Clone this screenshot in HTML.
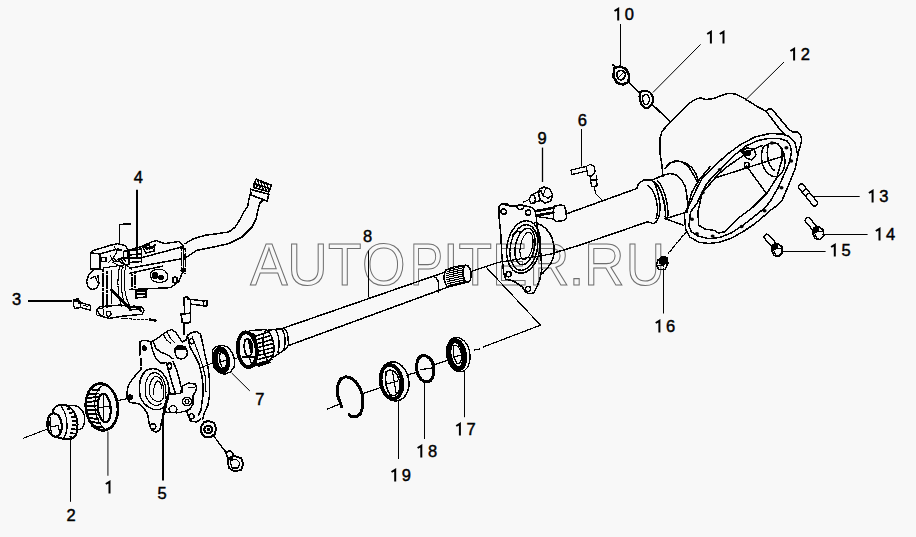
<!DOCTYPE html>
<html><head><meta charset="utf-8">
<style>
html,body{margin:0;padding:0;background:#f8f8f8;}
body{width:916px;height:537px;overflow:hidden;position:relative;}
svg{position:absolute;left:0;top:0;}
.wm{font-family:"Liberation Sans",sans-serif;font-size:56px;fill:none;stroke:#6e6e6e;stroke-width:1;}
.dg{font-family:"Liberation Sans",sans-serif;font-size:16.5px;fill:#000;stroke:#000;stroke-width:0.45px;}
.lb{font-family:"Liberation Sans",sans-serif;font-weight:bold;font-size:16.5px;fill:#111;letter-spacing:2px;}
.k{fill:none;stroke:#000;stroke-width:1.5;stroke-linejoin:round;stroke-linecap:round;shape-rendering:crispEdges;}
.ld{fill:none;stroke:#000;stroke-width:1;}
</style></head>
<body>
<svg width="916" height="537" viewBox="0 0 916 537">
<!-- watermark -->
<g class="wm"><text transform="translate(250.2,285) scale(1.00,1.066)">A</text><text transform="translate(287.2,285) scale(1.00,1.066)">U</text><text transform="translate(327.9,285) scale(0.98,1.066)">T</text><text transform="translate(362.1,285) scale(1.00,1.066)">O</text><text transform="translate(409.8,285) scale(0.89,1.066)">P</text><text transform="translate(443.1,285) scale(1.00,1.066)">I</text><text transform="translate(458.5,285) scale(0.98,1.066)">T</text><text transform="translate(492.2,285) scale(0.94,1.066)">E</text><text transform="translate(529.1,285) scale(1.00,1.066)">R</text><text transform="translate(568.8,285) scale(1.00,1.066)">.</text><text transform="translate(584.1,285) scale(1.00,1.066)">R</text><text transform="translate(625.7,285) scale(0.97,1.066)">U</text></g>

<!-- leader lines -->
<g class="ld">
<path d="M620.5 24V67"/>
<path d="M700.6 44.4L652.9 92.5"/>
<path d="M784 62L745 100.5"/>
<path d="M812 196.5H859.7"/>
<path d="M822 234.5H867.6"/>
<path d="M781 251.5H825.6"/>
<path d="M663.5 268V313.5"/>
<path d="M464.5 370.3V417.2"/>
<path d="M424.5 381.3V439"/>
<path d="M398.5 399.8V459"/>
<path d="M107.9 431.5V475.8" style="stroke-width:1.2;stroke:#333"/>
<path d="M70.5 439.3V501.8"/>
<path d="M28 301H72" style="stroke-width:2"/>
<path d="M137 189.8V258" style="stroke-width:2"/>
<path d="M163 416V480.6" style="stroke-width:2"/>
<path d="M581.5 129V166.6"/>
<path d="M231.7 373L249.8 390.9"/>
<path d="M368.5 250.5V297.4"/>
<path d="M542.5 147.6V182" style="stroke-width:1.3"/>
</g>
<!-- housing 12 -->
<g class="k">
<path d="M663,176 L662,166 L660.2,154.5 L660.2,137.8 L662.1,131.2 L670.5,121.9 L678,114.5 L688.2,104.2 L694.7,99.6 L700.3,97.7 L705.9,99.6 L713.4,98.6 L720.8,95.8 L728.3,93.4 L735.7,94 L743.2,97.7 L750.6,102.4 L758.1,107 L766,111.2 L780.2,129.8 L786.2,135.8"/>
<path d="M766.8,110.4 L768.3,109.2 L772,109.2 L789.2,129.8 L792.9,132 L797.4,132 L800.3,135 L801.8,140.2 L800.3,146.2 L798.9,150 L795.2,168.6 L787.7,187.2 L782.1,200.3 L776.6,205.9"/>
<path d="M684.3,214 L690,203.6 L696,190 L702.3,177.9 L713.5,166.8 L727,154.5 L740,145 L754.9,137 L769.8,133.5 L781.7,134 L789.2,136.5 L795.1,143 L797.4,153.6"/>
<path d="M776.6,205.9 L770,210.5 L763.9,216.1 L754.7,223.9 L743,231.7 L731.3,238.2 L719.5,242.2 L709.1,243.5 L698.7,242.2 L689.6,236.9 L685.6,229.1 L684.3,214"/>
<path d="M689,226 L690.5,212 L696.8,203.6 L706.8,183.5 L718,171.2 L732.5,156.7 L745.9,146 L758,140.5 L768.3,138.5 L780,138.6 L787,141 L790.5,146 L791.5,152 L789.5,162 L785.9,170.5 L778.4,187.2 L770,201.7 L763.9,208.6 L754.7,216.1 L743,225.2 L731.3,233 L719.5,237.5 L709.1,238.8 L698,236 L691.5,232 L689,226 Z"/>
<path d="M697.9,212 L702.3,192.5 L712.4,181.3 L718,174.6 L727,166.8 L740,157.8 L752,150 L762,145.5"/>
<path d="M697.9,212 L698.7,225.2 L705.2,229.1 L714.3,230.4 L718.2,233 L724.8,231.7 L737.4,218.9 L752.3,207.7 L767.2,192.8 L776.6,178 L782.1,159.3 L782,150 L778,143.5"/>
<path d="M762.3,150 C760,160 763,172 772,176 C780,179 786,170 784.7,158 C783.5,148 778,142 772,143 C767,144 763,146 762.3,150 Z"/>
<path d="M768,146 C766,154 768,166 774,170"/>
<path d="M715,178 L782.8,156.3"/>
<path d="M746.5,166 L765.8,192.6"/>
<circle cx="746.8" cy="165" r="2.5"/>
<path d="M741,151 L747,148 L754,149 L756,155 L752,160 L746,158 Z" style="stroke-width:1.4"/><path d="M744,151.5 L750,150 L750,155 L745,155.5 Z" style="fill:#000;stroke-width:1"/>
<!-- collar behind flange -->
<path d="M665.8,167.6 L670.5,162.9 L678,161 L685.4,162.9 L692,167.6 L696.6,175 L698.4,182"/>
</g>
<g fill="#000"><ellipse cx="719.8" cy="169.6" rx="2" ry="1.7"/><ellipse cx="742.8" cy="151.5" rx="2" ry="1.7"/><ellipse cx="771.9" cy="143.0" rx="2" ry="1.7"/><ellipse cx="786.4" cy="147.8" rx="2" ry="1.7"/><ellipse cx="791.2" cy="161.0" rx="2" ry="1.7"/><ellipse cx="781.5" cy="187.7" rx="2" ry="1.7"/><ellipse cx="764.6" cy="210.7" rx="2" ry="1.7"/><ellipse cx="741.6" cy="226.5" rx="2" ry="1.7"/><ellipse cx="712.6" cy="236.1" rx="2" ry="1.7"/><ellipse cx="696.9" cy="233.7" rx="2" ry="1.7"/><ellipse cx="692.0" cy="219.2" rx="2" ry="1.7"/><ellipse cx="702.9" cy="192.6" rx="2" ry="1.7"/></g>
<!-- nut 10, washer 11 -->
<g class="k">
<path d="M628.3,82 L640.2,93.2" style="stroke-width:1.6"/>
<path d="M652.1,104.4 L670.5,121.9" style="stroke-width:1.6"/>
<path d="M614,68 L620,66.5 L626,69 L629,75 L628.5,82 L623,84.5 L617,83 L613.5,77 Z" style="stroke-width:2.4"/>
<path d="M617,73 C618,70 622,69.5 624.5,72 C626.5,75 625,79 621,80 C618,80 616.5,76 617,73 Z" style="stroke-width:1.6"/><path d="M616,80 L626,70" style="stroke-width:1.2"/>
<path d="M612.5,64.5 L616.5,68" style="stroke-width:1.6"/>
<path d="M640,93 C639,97 640,104 644,107.5 C648,109 652,106 653,101 C653.5,96 651,92 647,91 C644,90.5 641,91 640,93 Z" style="stroke-width:2.2"/>
<path d="M643,96 C642,99 643,104 646,105 C649,104.5 650,100 649,97 C648,94 645,94 643,96 Z" style="stroke-width:1.4"/>
</g>
<!-- studs 13,14,15 -->
<g class="k" style="stroke-width:1.4">
<rect x="-13.4" y="-2.8" width="26.8" height="5.6" rx="2.6" transform="translate(808,195) rotate(50.6)"/>
<path d="M-6,-2.6 L-6,2.6 M-1,-2.6 L-1,2.6" transform="translate(808,195) rotate(50.6)" style="stroke-width:1"/>
<rect x="-8" y="-2.7" width="14" height="5.4" rx="2.5" transform="translate(811.5,224.5) rotate(50)"/>
<path d="M813.5,228 L818,226.5 L823,229.5 L824,235.5 L820,239.5 L815,238.5 L812.5,233 Z" style="stroke-width:1.6"/>
<path d="M813.5,228 L818,226.5 L819,231 L814,233.5 Z" style="fill:#000;stroke-width:1"/>
<path d="M819,231 L823.5,232 M815,234 L817,238.5" style="stroke-width:1.1"/>
<rect x="-8" y="-2.7" width="14" height="5.4" rx="2.5" transform="translate(770.5,241) rotate(48)"/>
<path d="M772.5,245 L777,243.5 L782,246.5 L782.5,252.5 L778.5,256.5 L774,255.5 L771.5,250 Z" style="stroke-width:1.6"/>
<path d="M772.5,245 L777,243.5 L778,248 L773,250.5 Z" style="fill:#000;stroke-width:1"/>
<path d="M778,248 L782,249 M774,251 L776,255.5" style="stroke-width:1.1"/>
</g>
<!-- nut 16 -->
<g class="k">
<path d="M686,232 L676,244 L668,254" style="stroke-dasharray:3 1.5;stroke-width:1.2"/>
<path d="M658,260 L662,256.5 L667,257.5 L668,263 L665,269.5 L659,269.7 L656.3,265 Z" style="stroke-width:1.5"/>
<path d="M659.5,258.5 L663,257 L666.8,258.5 L667,263.5 L662,265 L659.5,263 Z" style="fill:#000;stroke-width:1"/>
<path d="M656.3,265 L663.5,266" style="stroke-width:1.1"/>
</g>

<!-- tube + collar -->
<g class="k">
<path d="M566.5,213.8 L636.8,188.5"/>
<path d="M549,254.5 L580,245 L648.5,221.5"/>
<path d="M636.8,188.5 L638.4,183.5 L643.5,180.2 L651.8,180.2 C654,182 656,186 657,190 C659.5,198 660.6,208 659.5,214 C658.5,219 656,223 653.5,223.7 L648.5,222"/>
<path d="M648,186 C652,188 655,194 656.5,201 C658,209 657.5,215 656,218.7"/>
<path d="M651.8,180.2 L663.6,175.1 L670.3,173.5 L677,175.1 L682,180.2 L685.4,186.9 L687,197 L687.9,208.7 L686.2,212"/>
<path d="M654.4,181.8 C659,186 662,193 664,202 C665.5,209 665.8,214 665.2,218.7" style="stroke-width:1.8;stroke-dasharray:2 1"/>
<path d="M657.5,180.6 C662,185 664.5,192 666.5,201 C668,208 668.2,214 667.5,218.5"/>
<path d="M665.2,218.7 L687,212"/>
<path d="M665.2,218.7 L683.7,225.4"/>
<path d="M665.2,168.4 L668.6,163.4 L675.3,160.9 L682,161.7 L688.7,166.8 L693.7,175.1 L697.1,181.8"/>
<path d="M687,212 L688.5,204 L692,191.9 L698.8,180.2 L710,166.8"/>
</g>
<!-- sensor 6 -->
<g class="k" style="stroke-width:1.3">
<path d="M571,170 L586,166.5 L587,171 L572,174.5 Z"/>
<path d="M586,166.5 L590,164.5 L594.5,166.5 L595,172 L592,176 L588,175.5 L587,171"/>
<path d="M590,176 L591.5,186.5 L597,186 L596.5,175.5"/>
<path d="M591,180 L597,179.5" style="stroke-width:2"/>
<path d="M594,187 L596,194 L602.2,200.4" style="stroke-width:1.1"/>
</g>
<!-- sensor bracket on tube -->
<g class="k">
<path d="M553.5,206.5 L561,204.8 L564.5,206 L566,211 L566.5,218 L564,220.5 L556,221.5 L553.5,219 Z" style="stroke-width:1.5"/>
<path d="M536.5,211 L553.5,207.8 M536.5,215.5 L553.5,212.5" style="stroke-width:2.6"/>
<path d="M536.5,211 C535,213 535.5,215 536.5,216 M536.5,216.5 L553.5,219" style="stroke-width:1.3"/>
</g>
<!-- bolt 9 -->
<g class="k">
<path d="M539.5,189 L544.1,187.1 L549.7,189 L552.5,194.6 L550.7,201.1 L545,203 L540.4,200.2 L538.5,194 Z" style="stroke-width:1.7"/>
<path d="M541,190.5 L543,196 L549,198 M543,196 L545.5,188.5 M547,199 L551,196" style="stroke-width:1.1"/>
<path d="M540.4,190.8 L530.2,195.5 M542.3,200.2 L532,203" style="stroke-width:1.4"/>
<ellipse cx="532.5" cy="199.5" rx="2.8" ry="4" style="stroke-width:1.4"/>
<path d="M505,206 L517,205 M523.6,202 L529.5,199.5" style="stroke-width:1"/>
<ellipse cx="520.3" cy="207" rx="3.4" ry="2.4" style="stroke-width:1.3"/>
</g>

<!-- flange plate / bearing retainer -->
<g class="k">
<path d="M498.8,206.7 L501.7,203.8 L507.6,203.8 L510.5,206.7 L518,205.5 L525.2,205.8 L529.1,206.7 L532,207.7 L535,210.6 L536,214.6 L537.9,234.1 L540.8,253.7 L541.8,269.3 L539.9,279.1 L536.9,286.9 L534,292.8 L529.1,293.8 L525.2,291.8 L522.3,286.9 L513.5,281 L505.6,279.1 L503.7,273.2 L501.7,253.7 L500.8,234.1 L498.8,214.6 Z"/>
<circle cx="503.7" cy="211.6" r="2.6"/><circle cx="528.1" cy="212.6" r="2.6"/>
<circle cx="508.6" cy="274.2" r="2.6"/><circle cx="528.1" cy="288.9" r="2.6"/>
<ellipse cx="523.5" cy="247" rx="16.5" ry="26.5" transform="rotate(10 523.5 247)"/>
<ellipse cx="523.8" cy="247.5" rx="13.5" ry="23" transform="rotate(10 523.8 247.5)" style="stroke-dasharray:3 1"/>
<ellipse cx="525" cy="246.5" rx="9.5" ry="18.5" transform="rotate(12 525 246.5)"/>
<ellipse cx="526.5" cy="246" rx="6" ry="14" transform="rotate(12 526.5 246)" style="stroke-width:1.1"/>
<path d="M535,222.4 C543,225 549,230 552,238 C555,246 555,255 551,263 C548,268 545,271 542.8,273.2"/>
<path d="M513,235 C515,232 518,231 520,232" />
</g>

<!-- shaft 8 -->
<g class="k">
<path d="M284.2,327.8 L445.7,271.9"/>
<path d="M288.6,345.5 L447.6,287.2"/>
<path d="M433.6,276.1 C437,278 438.6,281 438.5,284 L438.3,291.9"/>
<!-- spline end -->
<path d="M445,272 C443,276 444,283 447.6,287.2 L469,281.7 C472,279 472,270 468,266 C466.5,265 465,265 463,265.6 L454.1,266.8 L446,270 Z" style="fill:#f8f8f8"/>
<path d="M465.3,265.4 C462,268 462,278 466,282" />
<path d="M449,269.5 L463,266 M447.5,271.5 L463,267.8 M447,273.5 L463,269.8 M447,275.5 L463,271.8 M447,277.5 L463.5,273.8 M447,279.5 L464,275.8 M447.5,281.5 L464.5,277.8 M448,283.5 L465,279.8 M448.5,285.5 L466,281.5" style="stroke-width:1.1"/>
<path d="M470.9,271.4 L500,262 L549,254.5" style="stroke-width:1.2"/>
<!-- CV joint -->
<path d="M268.5,330.1 L284.2,328.4 L287.5,332.9 L288.6,344 L286.4,348.5 L273,357.5"/>
<path d="M276,330 C279,336 280,345 278,352 M282,329 C285,334 286,342 284,349" />
<path d="M249.5,330.6 L266.3,329.5 C270,332 273,338 274.1,346.3 C274.5,352 273,357.5 268.5,361.9 L248.4,367.5" style="fill:#f8f8f8"/>
<path d="M256,336 L268,332 M256,340 L271,335.5 M256,344 L272.5,339.5 M256,348 L273.5,343.5 M256,352 L274,347.5 M256,356 L274,351.5 M256,360 L273.5,355.5 M257,364 L272,359.5 M259,366 L270,362.5" style="stroke-width:1.6"/>
<path d="M253,334 C256,341 257.5,351 255.5,364" style="stroke-width:3"/>
<path d="M266.3,329.5 C262,333 261,352 268.5,361.9" />
<ellipse cx="247.2" cy="349.7" rx="9.4" ry="17.4" transform="rotate(-6 247.2 349.7)" style="stroke-width:3.8;fill:#f8f8f8;stroke-dasharray:2.5 0.7"/>
<path d="M245,340 C243.5,345 244,352 247,356 C250,357 252.5,354 252.5,349 C252.5,344 251,340 248,338.5 Z" style="stroke-width:1.6"/><path d="M249,341 L251.5,352" style="stroke-width:2.4"/>
<path d="M243,357 L253,357 M249,357 L252,365" />
</g>
<!-- seal 7 -->
<g class="k">
<path d="M212.4,349.7 L216.2,346.7 L222.9,345.2 L228.1,347.4 L232.6,353.4 L234.8,360.9 L234,367.6 L230.3,372 L224.4,374.3 L218.4,372 L213.9,367.6 L212.4,358.6 Z" style="stroke-width:1.4"/>
<ellipse cx="221.3" cy="360.3" rx="6" ry="11.2" transform="rotate(-8 221.3 360.3)" style="stroke-width:5.4;stroke-dasharray:3 0.6"/>
<path d="M220,353 C219.5,358 220,364 222.5,368 C225,368.5 227,366 227,361 C227,357 225,354 222,352.5 Z" style="fill:#f8f8f8;stroke-width:1.2"/>
<path d="M219.5,362 L227,360" style="stroke-width:1.2"/>
<path d="M212.5,363 L200,368" style="stroke-width:1"/>
<path d="M234.5,359 L238,357.5" style="stroke-width:1"/>
</g>

<!-- rings 17 18 19 + snap ring + axis -->
<g class="k">
<path d="M327.3,409.1 L341,403.5 M361.3,394 L380.6,387.5 M406.9,375.2 L416.4,372.4 M420.9,369.6 L432.6,367.9 M434.9,364.5 L446.8,360.6 M474.3,350.1 L479.5,349.1 M483.5,346.9 L540.5,325.2 L486.6,267.7" style="stroke-width:1.2"/>
<path d="M341.8,406.9 L337.9,396.3 L337.9,385.1 L340.7,379 L345.7,376.7 L350.7,377.8 L355.8,381.8 L360.2,388.5 L363,397.4 L362.5,407.5 L360.2,414.2 L355.8,417 L351.3,416.4 L349,414.2" style="stroke-width:3"/>
<!-- ring 19 -->
<ellipse cx="394.2" cy="381.4" rx="14.6" ry="19.6" transform="rotate(-10 394.2 381.4)" style="stroke-width:1.5"/>
<ellipse cx="391.5" cy="381.8" rx="10.6" ry="17" transform="rotate(-10 391.5 381.8)" style="stroke-width:3.8;stroke-dasharray:4 0.8"/>
<path d="M386,372 C385,380 386,389 390,394.5 C394,397 398,395 399.5,390 C401,384 399,376 395,372 C392,369.5 388,369.5 386,372 Z" style="stroke-width:1.5"/>
<path d="M387,384 L398,381 M392.5,371 L396,393" style="stroke-width:1.2"/>
<!-- ring 18 -->
<ellipse cx="425.2" cy="368.7" rx="8.6" ry="13.4" transform="rotate(-10 425.2 368.7)" style="stroke-width:3"/>
<path d="M429,356.5 C433,359 435,364 434.5,370 C434,376 431,381 427,382.5" style="stroke-width:1.2"/>
<!-- ring 17 -->
<ellipse cx="458.3" cy="354.6" rx="11.6" ry="17.4" transform="rotate(-10 458.3 354.6)" style="stroke-width:1.3"/>
<ellipse cx="456.8" cy="354.6" rx="7.6" ry="14" transform="rotate(-10 456.8 354.6)" style="stroke-width:5;stroke-dasharray:3 0.7"/>
<path d="M453.5,346 C453,352 454,359 457,363.5 C460,364 462,361 461.7,356 C461.3,351 459,347 456,345 Z" style="fill:#f8f8f8;stroke-width:1.2"/>
<path d="M453.5,357 L462,355" style="stroke-width:1.3"/>
</g>

<!-- part 4 actuator + hose -->
<g class="k">
<!-- hose -->
<path d="M185,243.7 L193.4,238.7 L205.1,235.3 L216.9,233.7 L228.6,232 L235.3,227 L239.5,220.3 L242.8,213.6 L247.8,206 L248.7,200.2 L250.4,193.5"/>
<path d="M186.7,257.1 L196.8,250.4 L213.5,247 L228.6,243.7 L242,237 L252,227 L256.2,218.6 L257.9,210.2 L259.6,203.5 L262,201"/>
<path d="M250.4,189.3 L268.8,194.3 L267.1,201 L251.2,195.1 Z" style="stroke-width:1.6"/>
<path d="M253.7,184.2 L256.2,179.2 L271.3,185.1 L268.8,191.8 L253.7,187.5 Z" style="stroke-width:1.6"/>
<path d="M255,181 L257,187 M258,181.5 L260,188 M261,182 L263,189 M264,183 L266,189.5 M267,184 L268.5,190 M254,184 L270,188.5" style="stroke-width:1.3"/>
<!-- top block -->
<path d="M119.4,242 L119.4,224.5 L126,224.5" style="stroke-dasharray:1.6 1.2;stroke-width:1.1"/>
<path d="M123.5,224.2 L130.7,224.2" style="stroke-width:1.8"/>
<path d="M90.7,269.2 L90.7,252.8 L92.8,250.7 L109.2,245.6 L117.4,243.6 L125.6,245.6 L127.6,249.7 L128.7,260" style="stroke-dasharray:3 0.8"/>
<path d="M90.7,252.8 L100,254 L110,251 L118,249"/>
<path d="M100,254 L100,268.2 M90.7,269.2 L101,269.2"/>
<rect x="101.5" y="257.4" width="4.4" height="4.4" style="stroke-width:1.2"/>
<ellipse cx="125.6" cy="254.5" rx="2.2" ry="3.6" style="stroke-width:1.4"/>
<path d="M110,255 L114,262 L120,258 L124,263 M108,263 L113,258" style="stroke-width:1.1"/>
<!-- lower-left lobe -->
<path d="M93,270 L88.5,275 L86.6,281.5 L88,287 L92,289.7 L97,288 L99,283 L98,276" style="stroke-dasharray:2.5 0.8"/>
<path d="M90,279 L95,276 L97.5,282" style="stroke-width:1.1"/>
<!-- vertical arms -->
<path d="M103,269 L103,308 M107,271 L107,308 M111.2,270 L111.2,304" style="stroke-width:1.1;stroke-dasharray:3 0.8"/>
<path d="M119.4,267 C117,280 117.5,295 121.5,306 M125.6,267 C123,280 124,295 129.7,306 M122.5,266 C120,280 121,295 125.5,306" style="stroke-width:1.1;stroke-dasharray:3 0.8"/>
<path d="M111.2,289.7 L129.7,308" style="stroke-width:2.4"/>
<path d="M103,268 L130,264" style="stroke-width:1.2"/>
<!-- base plate -->
<path d="M96.9,310.2 L101,316.3 L109.2,318.4 L121.5,316.3 L142,314.3 L144,310.2 L142,307.1 L131.7,307.1 L121,305 L110,306 L100,306.5 Z" style="stroke-dasharray:3 0.8"/>
<circle cx="108.6" cy="313.8" r="2.4" style="stroke-width:1.3"/>
<circle cx="100" cy="312" r="4" style="stroke-width:1.1"/>
<path d="M130,310 L140,309 M134,306 L141,311" style="stroke-width:1.5"/>
<path d="M121.5,318.4 L150,320" style="stroke-dasharray:2.5 1.5;stroke-width:1.1"/>
<path d="M150,319.6 L155.3,320.4" style="stroke-width:2.6"/>
<!-- bolt 3 -->
<path d="M73.3,300 L78,299 L80.5,302 L80.5,307.5 L75,308.5 L73.3,305 Z" style="stroke-width:1.6"/>
<path d="M74.5,301 L78,300.5 L79,303" style="stroke-width:1.8"/>
<path d="M80.5,302.5 L90.7,305.5 L90.7,310.2 L80.5,307.5" style="stroke-width:1.4"/>
<path d="M83,305 L88,306.5" style="stroke-width:1"/>
<!-- actuator cylinder -->
<path d="M127.6,250.7 L141,246.6 L150.2,242.5 L156.3,240.5 L164.5,243.6 L178.9,241.5 L183,245.6" style="stroke-dasharray:3 0.8"/>
<path d="M128,258 L141,257.9 L183,246.6"/>
<path d="M129.7,268.2 L180.9,258.9"/>
<path d="M129.7,273.3 L162.5,266.1"/>
<path d="M129.7,289.7 L170.7,287.6 L178.9,281.5 L183,271.2 L184,256.9 L183,246.6"/>
<path d="M181,247 L181.5,260 L182,272 M185,248 L185.5,262 L185,274" style="stroke-dasharray:1.5 1;stroke-width:1.1"/>
<circle cx="183" cy="270.2" r="1.8" style="fill:#000"/>
<ellipse cx="175" cy="280" rx="2.4" ry="2.8" style="stroke-width:1.6"/>
<path d="M150.2,275 C151,270 157,268.5 162,269.5 C167,271 169,276 167,280 C164,283 155,283 152,280 Z" style="stroke-width:1.2"/>
<circle cx="155" cy="275.5" r="2.6" style="fill:#000"/>
<circle cx="161" cy="277.5" r="2" style="fill:#000"/>
<path d="M141,247 L150,244 M146,250 L156,247" style="stroke-width:1.2;stroke-dasharray:2 1.5"/>
<path d="M135.8,291 L146,291 L146,297 L136,298 Z" style="stroke-width:1.5"/>
<path d="M138,294 L144,294" style="stroke-width:2"/>
<path d="M132,274 L132,290 M135,272 L135,290" style="stroke-width:1.1;stroke-dasharray:2 0.8"/>
<path d="M129,250.5 L141.5,249 M128.6,255 L141.3,254 M129,258.5 L141,257.8 M130,262.5 L141,261.5" style="stroke-width:1.6"/>
<path d="M129,250 L129,264 M141.3,249 L141.3,262" style="stroke-width:1.4"/>
<path d="M143,247.5 L148,245.5 L152,247 L155,245 L154,251 L146,253 Z" style="stroke-width:1.5"/>
<path d="M146,248 L152,247.5" style="stroke-width:2"/>
<path d="M114,246 L117,252 L113,258 L118,262 L122,257 L126,262 M116,250 L122,250 M112,262 L124,268" style="stroke-width:1.3"/>
<path d="M120,262 L128,266 L132,270" style="stroke-width:1.4"/>
</g>

<!-- part 5 bracket -->
<g class="k">
<!-- top-left lobe + top edge -->
<path d="M139.8,355 L139.8,342 L141.7,340.6 L147,340.6 L150.9,342 L156,339.3 L161.3,335.4 L167.8,330.9 L171.7,329.6 L175.6,332.2 L179.5,338 L182.2,342 L186,340 L187.4,335.4 L191.3,332.8 L196.5,331.5 L200.4,334.1 L202.4,342 L205,355 L208.2,368 L209.5,379.8 L209.5,395 L208,405 L204,414 L202.8,418.9"/>
<path d="M141,359 L141,369" style="stroke-dasharray:1.5 1.2"/>
<ellipse cx="144.3" cy="348.2" rx="2" ry="2.4" style="fill:#000;stroke-width:1"/>
<!-- ribs -->
<path d="M150.9,343.3 L152.8,351.1 L156,358.9 L160,362.8 L165.2,362.8"/>
<path d="M153.5,342 L156,348.5 L161.3,352.4 L167.8,355 L173,358.9"/>
<path d="M163,334 L166.5,340 L170.5,343 M167,332 L171,339 L175,343" style="stroke-width:1.1"/>
<!-- boss -->
<path d="M175,352 C174,347 177,345.5 181,345.9 C185,346 187.5,349 187.4,353 C187,357 184,359 180.5,358.9 C177,358.5 175.5,356 175,352 Z"/>
<path d="M177,347 L185,346.5 L186,349 L176.5,349.5 Z" style="fill:#000;stroke-width:1"/>
<!-- right arm inner lines -->
<path d="M187.4,335.4 L190,347.2 L195.2,356.3 L199.1,364.1 L201.7,374.5 L203,385 L203,395 L201,410 L198.7,414.8"/>
<path d="M192,336 L195.2,344.6 L199.1,355 L203,366.7 L205.5,378 L206,392" style="stroke-width:1.1"/>
<ellipse cx="191.6" cy="341.3" rx="2.1" ry="2.6" style="stroke-width:1.5"/>
<!-- middle arm -->
<path d="M166.5,362.8 L167.8,368 L170.4,377.2 L173,386.3 L175.6,394"/>
<path d="M173,361.5 L176.9,370.6 L179.5,379.8 L180.8,386.3"/>
<ellipse cx="169.5" cy="366" rx="2" ry="3" style="stroke-width:1.6"/>
<!-- bore -->
<path d="M140,396 C138.5,386 140,376 146,370.5 C151,367.5 158,368 162.5,373 C167,378 169.5,386 169,394 C168.5,401 165,407 160,409.5"/>
<path d="M145.5,395 C144.5,386 146,378 150.5,374 C154.5,371.5 159.5,373 162.5,378 C165.5,383 166.5,391 165.5,398" style="stroke-width:1.2"/>
<path d="M149.5,394 C149,387 150.5,380 154,377 C157.5,375.5 161,378 162.5,383 C164,388 164,394 163,399" style="stroke-width:1.2"/>
<path d="M153.5,394 C153.5,388 155,383 157.5,381 C160,380.5 161.5,384 162,389" style="stroke-width:1.1"/>
<!-- left lobe and bottom -->
<path d="M141,369 L135,376 L131.1,381 L128.1,386.1 L127,392.3 L127,398.4 L130.1,402.5 L138.3,403.5 L143.4,407.6 L147.5,413.8 L149.1,423 L151.6,430.2 L155.7,432.2 L159.8,430.2 L161.3,423 L162.9,415.8 L163.9,408.7 L166,400.5 L168,394.3 L170,392.3"/>
<circle cx="130" cy="397.4" r="2.6" style="fill:#000;stroke-width:1"/>
<circle cx="153" cy="426.6" r="2.8" style="stroke-width:1.5"/>
<path d="M140,396 C142,402 146,406 151,408.5 C154,410 157,410 160,409.5"/>
<path d="M145.5,395 C147,400 150,403.5 154,405 C157,406 160,405 162,403 M149.5,394 C151,398 153.5,400.5 157,401.5 C159.5,402 161.5,401 163,399" style="stroke-width:1.1"/>
<path d="M164.4,413.8 L168,395.4" style="stroke-width:1.8"/>
<!-- middle plate -->
<path d="M169,394.3 L180.3,393.3 L182.3,386.1 L188.5,383.1 L195.6,384.1 L196.7,388.2 L195.6,391.3 L193,396 L193,404 L190,409 L186.4,410.7 L190.5,421 L196.7,422 L200.8,418.9"/>
<ellipse cx="187" cy="401.5" rx="4.6" ry="4.1" style="stroke-width:1.3"/>
<ellipse cx="187" cy="401.5" rx="2" ry="1.8" style="stroke-width:1.2"/>
<ellipse cx="173" cy="409.2" rx="4" ry="3.5" style="stroke-width:1.3"/>
<path d="M166,412 L177,413 L186.4,410.7" style="stroke-width:1.2"/>
<circle cx="191.5" cy="416.3" r="2.6" style="stroke-width:1.3"/>
<path d="M182.3,386.1 L182,393 M188,388 L195,387" style="stroke-width:1.1"/>
</g>
<!-- sensor on 5 -->
<g class="k">
<path d="M184,297.5 L187.5,296.5 L190.5,300 L190.5,313.3 L184.5,313.3 L184,297.5 Z"/>
<path d="M188,299 L203.5,301 L206.8,300.5 L206.8,305.8 L203.5,305.8 L190.5,304"/>
<path d="M203.5,300.5 L203.5,305.8"/>
<path d="M181.2,314 L190.5,313.3 L190.5,322 L186,323.5 L182,322 Z" style="stroke-width:1.8"/>
<path d="M184,324.5 L184,335" style="stroke-dasharray:1.5 1.2"/>
</g>
<!-- washer + bolt below 5 -->
<g class="k">
<path d="M201,427 L204,422 L209,421 L214,423 L216,428 L215,434 L210,437.4 L204,436.5 L201,432 Z" style="stroke-width:2"/>
<ellipse cx="208.3" cy="429.5" rx="4" ry="3.6" style="stroke-width:2.2"/>
<circle cx="208.3" cy="429.5" r="1" style="fill:#000"/>
<path d="M214.1,436.7 L226.5,453" style="stroke-dasharray:2.5 1.5"/>
<path d="M226,452.5 L230,450.5 L233,454 L232,459 L228,459.5 Z" style="stroke-width:1.6"/>
<path d="M229,458 L234,456 L241,458 L243.4,464 L241,470 L234,471.3 L229,468 L228,462 Z" style="stroke-width:1.8"/>
<path d="M230,461 L236,459 L240,463 L238,468 L232,468 Z" style="stroke-width:1.2"/>
</g>
<!-- part 1 gear ring -->
<g class="k">
<ellipse cx="101.8" cy="407" rx="16" ry="23.5" transform="rotate(-6 101.8 407)" style="stroke-width:2.6"/>
<ellipse cx="104.2" cy="408" rx="6.4" ry="14.3" transform="rotate(-6 104.2 408)" style="stroke-width:2.2"/>
<path d="M88,398 L97,397 M87.5,402 L97,401 M87,406 L97,405.5 M87,410 L97,410 M87.5,414 L97.5,414.5 M88.5,418 L98.5,419 M90,422 L100,423 M92,426 L101,427 M90,394 L98,393.5 M92.5,390 L99,390" style="stroke-width:1.9"/>
<ellipse cx="106" cy="407.5" rx="11" ry="22" transform="rotate(-6 106 407.5)" style="stroke-width:1.1;stroke-dasharray:2 1"/>
<path d="M97,408 L111,406 M104,395 L103,421" style="stroke-width:1"/>
<path d="M118.6,400.4 L130,398.1" style="stroke-width:1.1"/>
</g>
<!-- part 2 hub -->
<g class="k">
<path d="M52.5,413 C53,408 57,405 62,404.8 C67,404.6 72,408 75,414 C78,420 78.5,429 76,434.5 C74,438.5 70,440 65,439.2 L58,437.5" style="stroke-width:2"/>
<path d="M66,405.5 L74,405.6 C78,406 81,408 83,412 C85,416 85,422 83.5,426 C82,429 79,430 76.8,429.5" style="stroke-width:1.4"/>
<path d="M68,409 l3.2,-0.6 M70,413 l3.4,-0.6 M71.5,417 l3.4,-0.4 M72.3,421 l3.4,0 M72.5,425 l3.4,0.3 M72,429 l3.3,0.5 M71,433 l3,0.7 M69.5,436.5 l2.5,0.8" style="stroke-width:1.8"/>
<path d="M61,406 C65,411 67.5,420 67,428 C66.5,433 65,436.5 63,438.5" style="stroke-width:1.3"/>
<ellipse cx="54.6" cy="425" rx="7.2" ry="11.8" transform="rotate(-6 54.6 425)" style="stroke-width:2.2"/>
<path d="M51,417 C49.5,421 49.5,428 51.5,432 M50.5,427 L58,425.5 L60,433" style="stroke-width:1.2"/>
<path d="M23.4,438.2 L47.5,429" style="stroke-width:1.1"/>
</g>

<g id="labels">
<path d="M614.5,11.0 L618.2,8.8 L618.2,20.4" fill="none" stroke="#000" stroke-width="2" stroke-linejoin="miter"/>
<text transform="translate(624.8,20.4) scale(1.00,1)" x="0" y="0" class="dg">0</text>
<path d="M707.2,34.0 L710.9,31.8 L710.9,43.4" fill="none" stroke="#000" stroke-width="2" stroke-linejoin="miter"/>
<path d="M719.8,34.0 L723.5,31.8 L723.5,43.4" fill="none" stroke="#000" stroke-width="2" stroke-linejoin="miter"/>
<path d="M790.4,51.0 L794.1,48.8 L794.1,60.4" fill="none" stroke="#000" stroke-width="2" stroke-linejoin="miter"/>
<text transform="translate(800.7,60.4) scale(1.00,1)" x="0" y="0" class="dg">2</text>
<path d="M868.9,193.0 L872.6,190.8 L872.6,202.4" fill="none" stroke="#000" stroke-width="2" stroke-linejoin="miter"/>
<text transform="translate(879.2,202.4) scale(1.00,1)" x="0" y="0" class="dg">3</text>
<path d="M875.8,231.0 L879.5,228.8 L879.5,240.4" fill="none" stroke="#000" stroke-width="2" stroke-linejoin="miter"/>
<text transform="translate(886.1,240.4) scale(1.00,1)" x="0" y="0" class="dg">4</text>
<path d="M831.1,247.0 L834.8,244.8 L834.8,256.4" fill="none" stroke="#000" stroke-width="2" stroke-linejoin="miter"/>
<text transform="translate(841.4,256.4) scale(1.00,1)" x="0" y="0" class="dg">5</text>
<path d="M655.7,323.0 L659.4,320.8 L659.4,332.4" fill="none" stroke="#000" stroke-width="2" stroke-linejoin="miter"/>
<text transform="translate(666.0,332.4) scale(1.00,1)" x="0" y="0" class="dg">6</text>
<path d="M456.2,426.0 L459.9,423.8 L459.9,435.4" fill="none" stroke="#000" stroke-width="2" stroke-linejoin="miter"/>
<text transform="translate(466.5,435.4) scale(1.00,1)" x="0" y="0" class="dg">7</text>
<path d="M417.6,448.0 L421.3,445.8 L421.3,457.4" fill="none" stroke="#000" stroke-width="2" stroke-linejoin="miter"/>
<text transform="translate(427.9,457.4) scale(1.00,1)" x="0" y="0" class="dg">8</text>
<path d="M391.5,472.0 L395.2,469.8 L395.2,481.4" fill="none" stroke="#000" stroke-width="2" stroke-linejoin="miter"/>
<text transform="translate(401.8,481.4) scale(1.00,1)" x="0" y="0" class="dg">9</text>
<path d="M105.8,484.0 L109.5,481.8 L109.5,493.4" fill="none" stroke="#000" stroke-width="2" stroke-linejoin="miter"/>
<text transform="translate(66.5,521.4) scale(1.00,1)" x="0" y="0" class="dg">2</text>
<text transform="translate(12.0,305.4) scale(1.00,1)" x="0" y="0" class="dg">3</text>
<text transform="translate(133.8,183.4) scale(1.00,1)" x="0" y="0" class="dg">4</text>
<text transform="translate(157.4,499.4) scale(1.00,1)" x="0" y="0" class="dg">5</text>
<text transform="translate(577.8,126.4) scale(1.00,1)" x="0" y="0" class="dg">6</text>
<text transform="translate(255.3,405.4) scale(1.00,1)" x="0" y="0" class="dg">7</text>
<text transform="translate(362.9,242.4) scale(1.00,1)" x="0" y="0" class="dg">8</text>
<text transform="translate(537.5,144.4) scale(1.00,1)" x="0" y="0" class="dg">9</text>
</g>

</svg>
</body></html>
